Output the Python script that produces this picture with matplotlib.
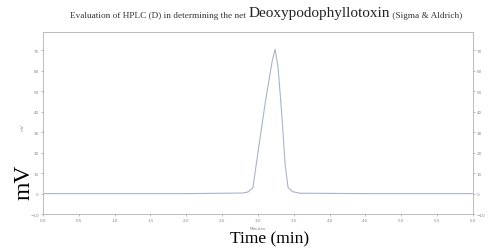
import numpy as np
import matplotlib.pyplot as plt

# chromatogram trace (minutes, mV)
time_min = [0.0, 2.0, 2.79, 2.86, 2.93, 3.0, 3.1, 3.2, 3.24, 3.28, 3.33, 3.38, 3.42, 3.48, 3.58, 4.5, 6.0]
signal_mv = [0.0, 0.0, 0.3, 0.8, 3.0, 20.0, 44.0, 65.0, 70.5, 62.0, 40.0, 14.0, 3.0, 1.0, 0.2, 0.0, 0.0]

x_ticks = np.arange(0, 6.01, 0.5)
y_ticks = np.arange(-10, 71, 10)

fig = plt.figure(figsize=(4.89, 2.51), dpi=100)
ax = fig.add_axes([0.088, 0.143, 0.879, 0.726])
ax.plot(time_min, signal_mv, color='#aab3c8', lw=0.8)
ax.set_xlim(0, 6)
ax.set_ylim(-10, 79)
ax.set_xticks(x_ticks)
ax.set_xticklabels(['%.1f' % t for t in x_ticks])
ax.set_yticks(y_ticks)
ax.tick_params(labelsize=3, colors='#888888', length=1.5, width=0.4, pad=1.5,
               right=True, labelright=True)
for s in ax.spines.values():
    s.set_color('#bbbbbb')
    s.set_linewidth(0.7)

ax.text(3.0, -16, 'Minutes', fontsize=3, color='#888888', ha='center', va='top')
ax.text(-0.29, 33, 'mV', fontsize=3, color='#888888', rotation=90, ha='center', va='center')

serif = 'Liberation Serif'
fig.text(0.552, 0.045, 'Time (min)', fontsize=12.5, family=serif, ha='center', va='center')
fig.text(0.05, 0.275, 'mV', fontsize=17, family=serif, rotation=90, ha='center', va='center')

t1 = fig.text(0.143, 0.93, 'Evaluation of HPLC (D) in determining the net ', fontsize=6.7,
              family=serif, ha='left', va='baseline', color='#333333')
t2 = ax.annotate('Deoxypodophyllotoxin', xy=(1, 0), xycoords=t1, fontsize=11, family=serif,
                 ha='left', va='bottom', color='#222222')
ax.annotate(' (Sigma & Aldrich)', xy=(1, 0), xycoords=t2, fontsize=6.7, family=serif,
            ha='left', va='bottom', color='#333333')

plt.savefig('out.png')
